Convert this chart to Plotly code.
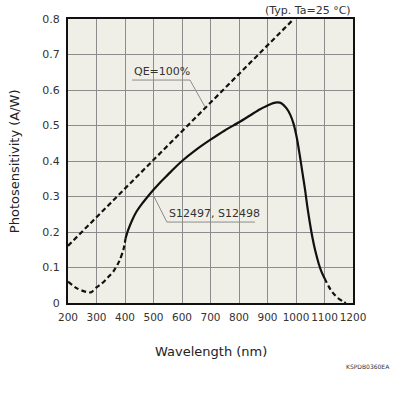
import plotly.graph_objects as go

# ---- data ----
wl_uv = [200, 230, 260, 280, 300, 320, 340, 360, 380, 395, 402]
ps_uv = [0.060, 0.042, 0.032, 0.030, 0.044, 0.056, 0.072, 0.090, 0.118, 0.152, 0.182]

wl_main = [402, 410, 425, 440, 460, 480, 500, 525, 550, 575, 600, 650, 700, 750, 800,
           840, 874, 900, 920, 935, 950, 967, 980, 991, 1003, 1014, 1023, 1032, 1040,
           1049, 1058, 1067, 1080, 1090, 1100]
ps_main = [0.182, 0.203, 0.233, 0.257, 0.280, 0.300, 0.319, 0.341, 0.361, 0.381, 0.400,
           0.432, 0.460, 0.486, 0.509, 0.529, 0.546, 0.556, 0.563, 0.565, 0.562, 0.548,
           0.530, 0.506, 0.465, 0.412, 0.365, 0.318, 0.270, 0.224, 0.183, 0.149, 0.110,
           0.087, 0.070]

wl_ir = [1100, 1115, 1131, 1150, 1166, 1175]
ps_ir = [0.070, 0.046, 0.027, 0.012, 0.004, 0.0]

wl_qe = [200, 992]
ps_qe = [0.161, 0.800]

x_ticks = [200, 300, 400, 500, 600, 700, 800, 900, 1000, 1100, 1200]
y_ticks = [0, 0.1, 0.2, 0.3, 0.4, 0.5, 0.6, 0.7, 0.8]
y_tick_text = ["0", "0.1", "0.2", "0.3", "0.4", "0.5", "0.6", "0.7", "0.8"]

FONT = "DejaVu Sans"
BLACK = "#111111"
DASH = "5px,3px"

fig = go.Figure()
fig.add_trace(go.Scatter(x=wl_qe, y=ps_qe, mode="lines",
                         line=dict(color=BLACK, width=2.2, dash=DASH),
                         hoverinfo="skip"))
fig.add_trace(go.Scatter(x=wl_uv, y=ps_uv, mode="lines",
                         line=dict(color=BLACK, width=2.2, dash=DASH, shape="spline", smoothing=0.8),
                         hoverinfo="skip"))
fig.add_trace(go.Scatter(x=wl_main, y=ps_main, mode="lines",
                         line=dict(color=BLACK, width=2.2, shape="spline", smoothing=0.8),
                         hoverinfo="skip"))
fig.add_trace(go.Scatter(x=wl_ir, y=ps_ir, mode="lines",
                         line=dict(color=BLACK, width=2.2, dash=DASH, shape="spline", smoothing=0.8),
                         hoverinfo="skip"))

# label leaders / underlines
LEAD = "#8a8a8a"
shapes = [
    dict(type="line", x0=425, y0=0.628, x1=628, y1=0.628, line=dict(color=LEAD, width=1)),
    dict(type="line", x0=628, y0=0.628, x1=681, y1=0.552, line=dict(color=LEAD, width=1)),
    dict(type="line", x0=547, y0=0.228, x1=856, y1=0.228, line=dict(color=LEAD, width=1)),
    dict(type="line", x0=547, y0=0.228, x1=498, y1=0.306, line=dict(color=LEAD, width=1)),
]

annotations = [
    dict(x=425, y=0.628, xref="x", yref="y", text="QE=100%", showarrow=False,
         xanchor="left", yanchor="bottom", font=dict(family=FONT, size=11, color="#333")),
    dict(x=547, y=0.228, xref="x", yref="y", text="S12497, S12498", showarrow=False,
         xanchor="left", yanchor="bottom", font=dict(family=FONT, size=11, color="#333")),
    dict(x=1.0, y=1.0, xref="paper", yref="paper", text="(Typ. Ta=25 °C)", showarrow=False,
         xanchor="right", yanchor="bottom", yshift=0, font=dict(family=FONT, size=11, color="#333")),
    dict(x=0.5, y=-0.1725, xref="paper", yref="paper", text="Wavelength (nm)", showarrow=False,
         xanchor="center", yanchor="middle", font=dict(family=FONT, size=13, color="#222")),
    dict(x=-0.189, y=0.5, xref="paper", yref="paper", text="Photosensitivity (A/W)", showarrow=False,
         textangle=-90, xanchor="center", yanchor="middle", font=dict(family=FONT, size=13, color="#222")),
    dict(x=1.137, y=-0.225, xref="paper", yref="paper", text="KSPDB0360EA", showarrow=False,
         xanchor="right", yanchor="middle", font=dict(family=FONT, size=6, color="#333")),
]

fig.update_layout(
    width=396, height=396,
    margin=dict(l=68, r=43, t=19, b=93, autoexpand=False),
    paper_bgcolor="white",
    plot_bgcolor="#f0efe7",
    showlegend=False,
    shapes=shapes,
    annotations=annotations,
    font=dict(family=FONT, size=11, color="#333"),
)
fig.update_xaxes(range=[200, 1200], tickvals=x_ticks, ticktext=[str(v) for v in x_ticks],
                 tickangle=0, automargin=False,
                 showgrid=True, gridcolor="#8c8c8c", gridwidth=1,
                 showline=True, linecolor=BLACK, linewidth=2, mirror=True,
                 ticks="", ticklabelstandoff=3, zeroline=False,
                 tickfont=dict(family=FONT, size=10.5, color="#333"))
fig.update_yaxes(range=[0, 0.8], tickvals=y_ticks, ticktext=y_tick_text,
                 automargin=False,
                 showgrid=True, gridcolor="#8c8c8c", gridwidth=1,
                 showline=True, linecolor=BLACK, linewidth=2, mirror=True,
                 ticks="", ticklabelstandoff=4, zeroline=False,
                 tickfont=dict(family=FONT, size=11, color="#333"))

fig.write_html("out.html",
               config={"displayModeBar": False},
               post_script="document.body.style.margin='0';document.body.style.overflow='hidden';")
